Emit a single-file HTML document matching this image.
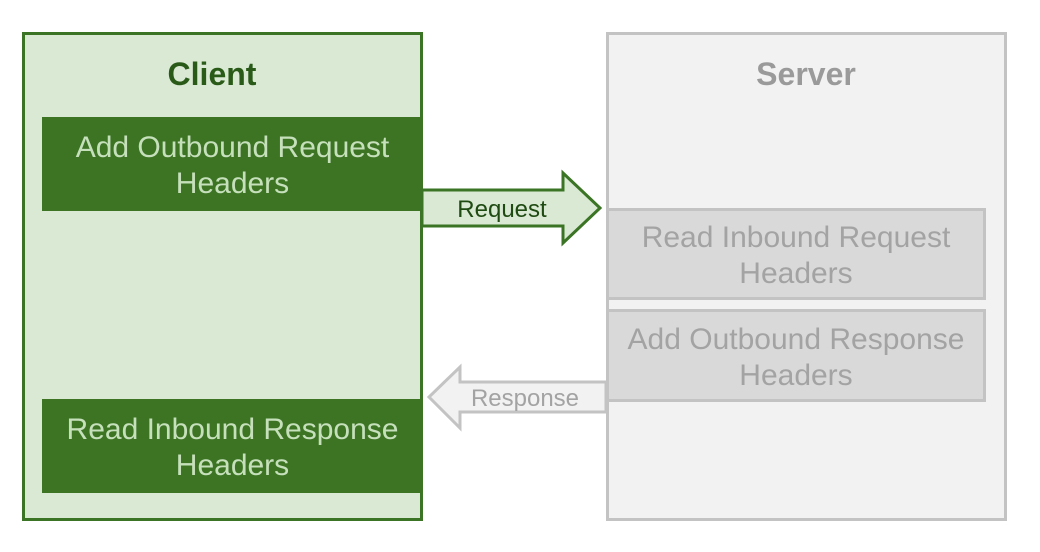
<!DOCTYPE html>
<html><head><style>
body{margin:0;width:1040px;height:552px;background:#fff;position:relative;font-family:"Liberation Sans",sans-serif;overflow:hidden}
.a{position:absolute;box-sizing:border-box}
.t{display:flex;align-items:center;justify-content:center;text-align:center;font-size:30px;line-height:36px;padding-top:4px}
</style></head><body>
<div class="a" style="left:22px;top:32px;width:401px;height:489px;background:#d9e9d4;border:3px solid #3a7424"></div>
<div class="a" style="left:606px;top:32px;width:401px;height:489px;background:#f2f2f2;border:3px solid #c3c3c3"></div>
<div class="a t" style="left:22px;top:52px;width:380px;height:40px;font-size:32px;font-weight:bold;color:#2a5a18">Client</div>
<div class="a t" style="left:606px;top:52px;width:400px;height:40px;font-size:32px;font-weight:bold;color:#9a9a9a">Server</div>
<div class="a t" style="left:42px;top:117px;width:381px;height:94px;background:#3c7424;color:#c6e0bb">Add Outbound Request<br>Headers</div>
<div class="a t" style="left:42px;top:399px;width:381px;height:94px;background:#3c7424;color:#c6e0bb">Read Inbound Response<br>Headers</div>
<div class="a t" style="left:606px;top:208px;width:380px;height:92px;background:#d9d9d9;border:3px solid #c3c3c3;color:#a3a3a3">Read Inbound Request<br>Headers</div>
<div class="a t" style="left:606px;top:309px;width:380px;height:93px;background:#d9d9d9;border:3px solid #c3c3c3;color:#a3a3a3">Add Outbound Response<br>Headers</div>
<svg class="a" style="left:0;top:0" width="1040" height="552">
<polygon points="422,190 563,190 563,173 600,208 563,243 563,226 422,226" fill="#d9e9d4" stroke="#3a7424" stroke-width="3"/>
<polygon points="606,382 460,382 460,367 429,397 460,428 460,412 606,412" fill="#f2f2f2" stroke="#c3c3c3" stroke-width="3"/>
<text x="502" y="217" font-size="24" fill="#1f4a12" text-anchor="middle" font-family="Liberation Sans">Request</text>
<text x="525" y="406" font-size="24" fill="#a3a3a3" text-anchor="middle" font-family="Liberation Sans">Response</text>
</svg>
</body></html>
